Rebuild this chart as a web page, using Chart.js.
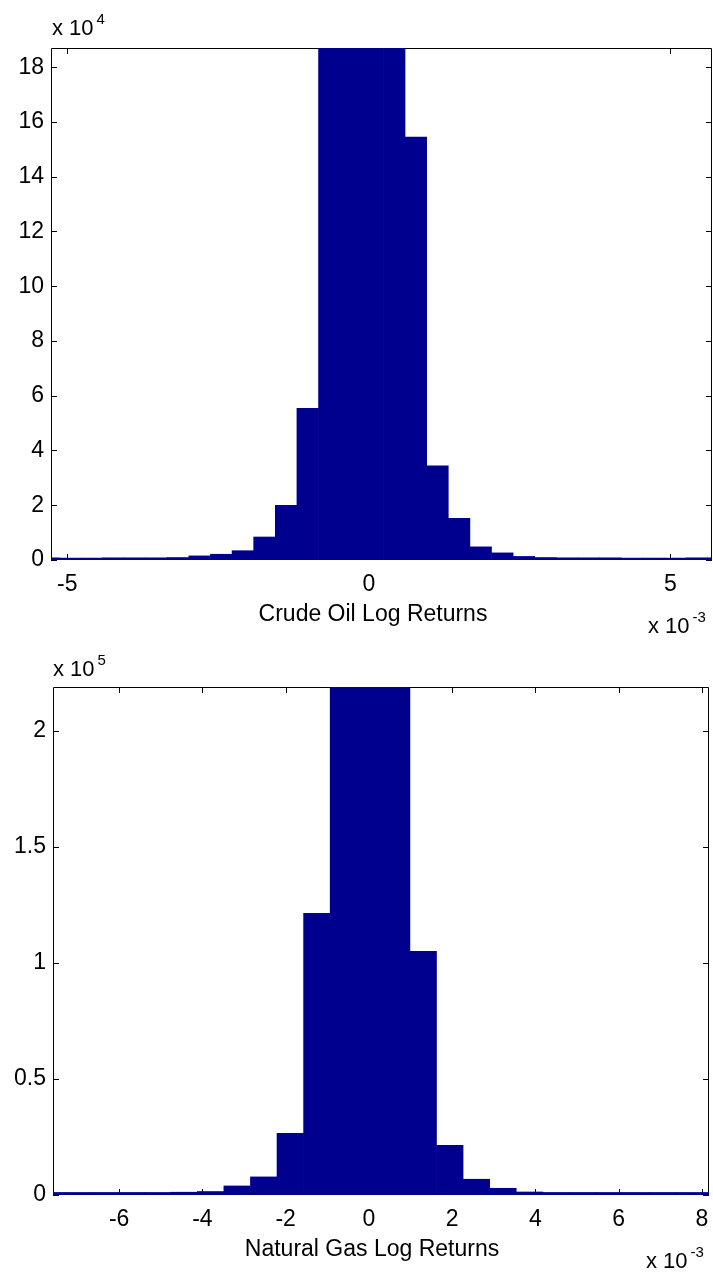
<!DOCTYPE html>
<html>
<head>
<meta charset="utf-8">
<script src="https://cdn.jsdelivr.net/npm/chart.js@4"></script>
<style>
  html, body { margin: 0; padding: 0; background: #fff; }
  #page { position: relative; width: 713px; height: 1277px; }
  .box { position: absolute; left: 0; width: 713px; }
</style>
</head>
<body>
<div id="page">
  <div class="box" style="top:0;height:640px"><canvas id="oilChart"></canvas></div>
  <div class="box" style="top:640px;height:637px"><canvas id="gasChart"></canvas></div>
</div>
<script>
// Crude oil histogram (x in units of 1e-3, counts in units of 1e4)
const oilBinCenters = [-5.315, -4.9565, -4.598, -4.2395, -3.881, -3.5225, -3.164, -2.8055,
    -2.447, -2.0885, -1.730, -1.3715, -1.013, -0.6545, -0.296, 0.0625,
    0.421, 0.7795, 1.138, 1.4965, 1.855, 2.2135, 2.572, 2.9305,
    3.289, 3.6475, 4.006, 4.3645, 4.723, 5.0815, 5.440, 5.7985];
const oilCounts = [0.08, 0.07, 0.07, 0.08, 0.08, 0.08, 0.09, 0.15,
    0.21, 0.34, 0.84, 2.0, 5.54, 24, 38, 40,
    26, 15.45, 3.44, 1.52, 0.48, 0.26, 0.13, 0.09,
    0.08, 0.08, 0.08, 0.07, 0.07, 0.07, 0.08, 0.08];
const oilXTicks = [-5, 0, 5];
const oilYTicks = [0, 2, 4, 6, 8, 10, 12, 14, 16, 18];

// Natural gas histogram (x in units of 1e-3, counts in units of 1e5)
const gasBinCenters = [-7.635, -6.9965, -6.358, -5.7195, -5.081, -4.4425, -3.804, -3.1655,
    -2.527, -1.8885, -1.25, -0.6115, 0.027, 0.6655, 1.304, 1.9425,
    2.581, 3.2195, 3.858, 4.4965, 5.135, 5.7735, 6.412, 7.0505,
    7.689, 8.3275];
const gasCounts = [0.011, 0.011, 0.011, 0.011, 0.011, 0.012, 0.015, 0.039,
    0.078, 0.266, 1.214, 2.9, 4.5, 3.1, 1.05, 0.214,
    0.068, 0.029, 0.013, 0.011, 0.011, 0.011, 0.011, 0.011,
    0.011, 0.011];
const gasXTicks = [-6, -4, -2, 0, 2, 4, 6, 8];
const gasYTicks = [0, 0.5, 1, 1.5, 2];

const FONT = "'Liberation Sans', Arial, sans-serif";
const BAR_COLOR = '#00008f';

// MATLAB-like box: axes frame with inward ticks, exponent notes and x label
const matlabAxes = {
    id: 'matlabAxes',
    beforeDatasetsDraw(chart, args, opts) {
        const { ctx, chartArea: a, scales: { x, y } } = chart;
        ctx.save();
        ctx.strokeStyle = '#000';
        ctx.lineWidth = 1;
        ctx.beginPath();
        ctx.rect(a.left + 0.5, a.top + 0.5, a.right - a.left - 1, a.bottom - a.top - 1);
        x.ticks.forEach(t => {
            const px = Math.round(x.getPixelForValue(t.value)) + 0.5;
            ctx.moveTo(px, a.bottom); ctx.lineTo(px, a.bottom - 6);
            ctx.moveTo(px, a.top); ctx.lineTo(px, a.top + 6);
        });
        y.ticks.forEach(t => {
            const py = Math.round(y.getPixelForValue(t.value)) + 0.5;
            ctx.moveTo(a.left, py); ctx.lineTo(a.left + 6, py);
            ctx.moveTo(a.right, py); ctx.lineTo(a.right - 6, py);
        });
        ctx.stroke();
        ctx.restore();
    },
    afterDraw(chart, args, opts) {
        const { ctx, chartArea: a } = chart;
        ctx.save();
        ctx.fillStyle = '#000';
        ctx.textBaseline = 'middle';
        ctx.textAlign = 'center';
        ctx.font = `23px ${FONT}`;
        ctx.fillText(opts.xLabel, opts.xLabelX, a.bottom + opts.xLabelDy);

        const power = (x0, y0, exp) => {
            ctx.textAlign = 'left';
            ctx.textBaseline = 'alphabetic';
            ctx.font = `22px ${FONT}`;
            ctx.fillText('x 10', x0, y0);
            const w = ctx.measureText('x 10').width;
            ctx.font = `15px ${FONT}`;
            ctx.fillText(exp, x0 + w + 3, y0 - 11);
        };
        power(opts.yPowX, a.top - opts.yPowDy, opts.yPow);
        power(opts.xPowX, a.bottom + opts.xPowDy, opts.xPow);
        ctx.restore();
    }
};

function makeHist(canvasId, centers, counts, xTicks, yTicks, s) {
    return new Chart(document.getElementById(canvasId), {
        type: 'bar',
        data: {
            datasets: [{
                data: centers.map((c, i) => ({ x: c, y: counts[i] })),
                backgroundColor: BAR_COLOR,
                borderWidth: 0,
                barPercentage: 1,
                categoryPercentage: 1
            }]
        },
        options: {
            responsive: true,
            maintainAspectRatio: false,
            animation: false,
            layout: { padding: { top: s.top, right: s.right, left: 0, bottom: 0 } },
            plugins: {
                legend: { display: false },
                tooltip: { enabled: false },
                matlabAxes: s.notes
            },
            scales: {
                x: {
                    type: 'linear',
                    offset: false,
                    min: s.xMin,
                    max: s.xMax,
                    afterBuildTicks: scale => { scale.ticks = xTicks.map(v => ({ value: v })); },
                    afterFit: scale => {
                        scale.height = s.xHeight;
                        scale.paddingLeft = 0;
                        scale.paddingRight = 0;
                    },
                    grid: { display: false, drawTicks: false },
                    border: { display: false },
                    ticks: {
                        autoSkip: false,
                        maxRotation: 0,
                        padding: 11,
                        color: '#000',
                        font: { family: FONT, size: 23 },
                        callback: v => String(v)
                    }
                },
                y: {
                    min: 0,
                    max: s.yMax,
                    afterBuildTicks: scale => { scale.ticks = yTicks.map(v => ({ value: v })); },
                    afterFit: scale => {
                        scale.width = s.yWidth;
                        scale.paddingTop = 0;
                        scale.paddingBottom = 0;
                    },
                    grid: { display: false, drawTicks: false },
                    border: { display: false },
                    ticks: {
                        autoSkip: false,
                        padding: 7,
                        color: '#000',
                        font: { family: FONT, size: 23 },
                        callback: v => String(v)
                    }
                }
            }
        },
        plugins: [matlabAxes]
    });
}

makeHist('oilChart', oilBinCenters, oilCounts, oilXTicks, oilYTicks, {
    top: 48, right: 1, yWidth: 51, xHeight: 80,
    xMin: -5.27, xMax: 5.69, yMax: 18.7,
    notes: {
        xLabel: 'Crude Oil Log Returns', xLabelX: 373, xLabelDy: 55,
        yPow: '4', yPowX: 52, yPowDy: 13,
        xPow: '-3', xPowX: 648, xPowDy: 73
    }
});

makeHist('gasChart', gasBinCenters, gasCounts, gasXTicks, gasYTicks, {
    top: 47, right: 4, yWidth: 53, xHeight: 82,
    xMin: -7.59, xMax: 8.17, yMax: 2.19,
    notes: {
        xLabel: 'Natural Gas Log Returns', xLabelX: 372, xLabelDy: 55,
        yPow: '5', yPowX: 53, yPowDy: 11,
        xPow: '-3', xPowX: 646, xPowDy: 73
    }
});
</script>
</body>
</html>
